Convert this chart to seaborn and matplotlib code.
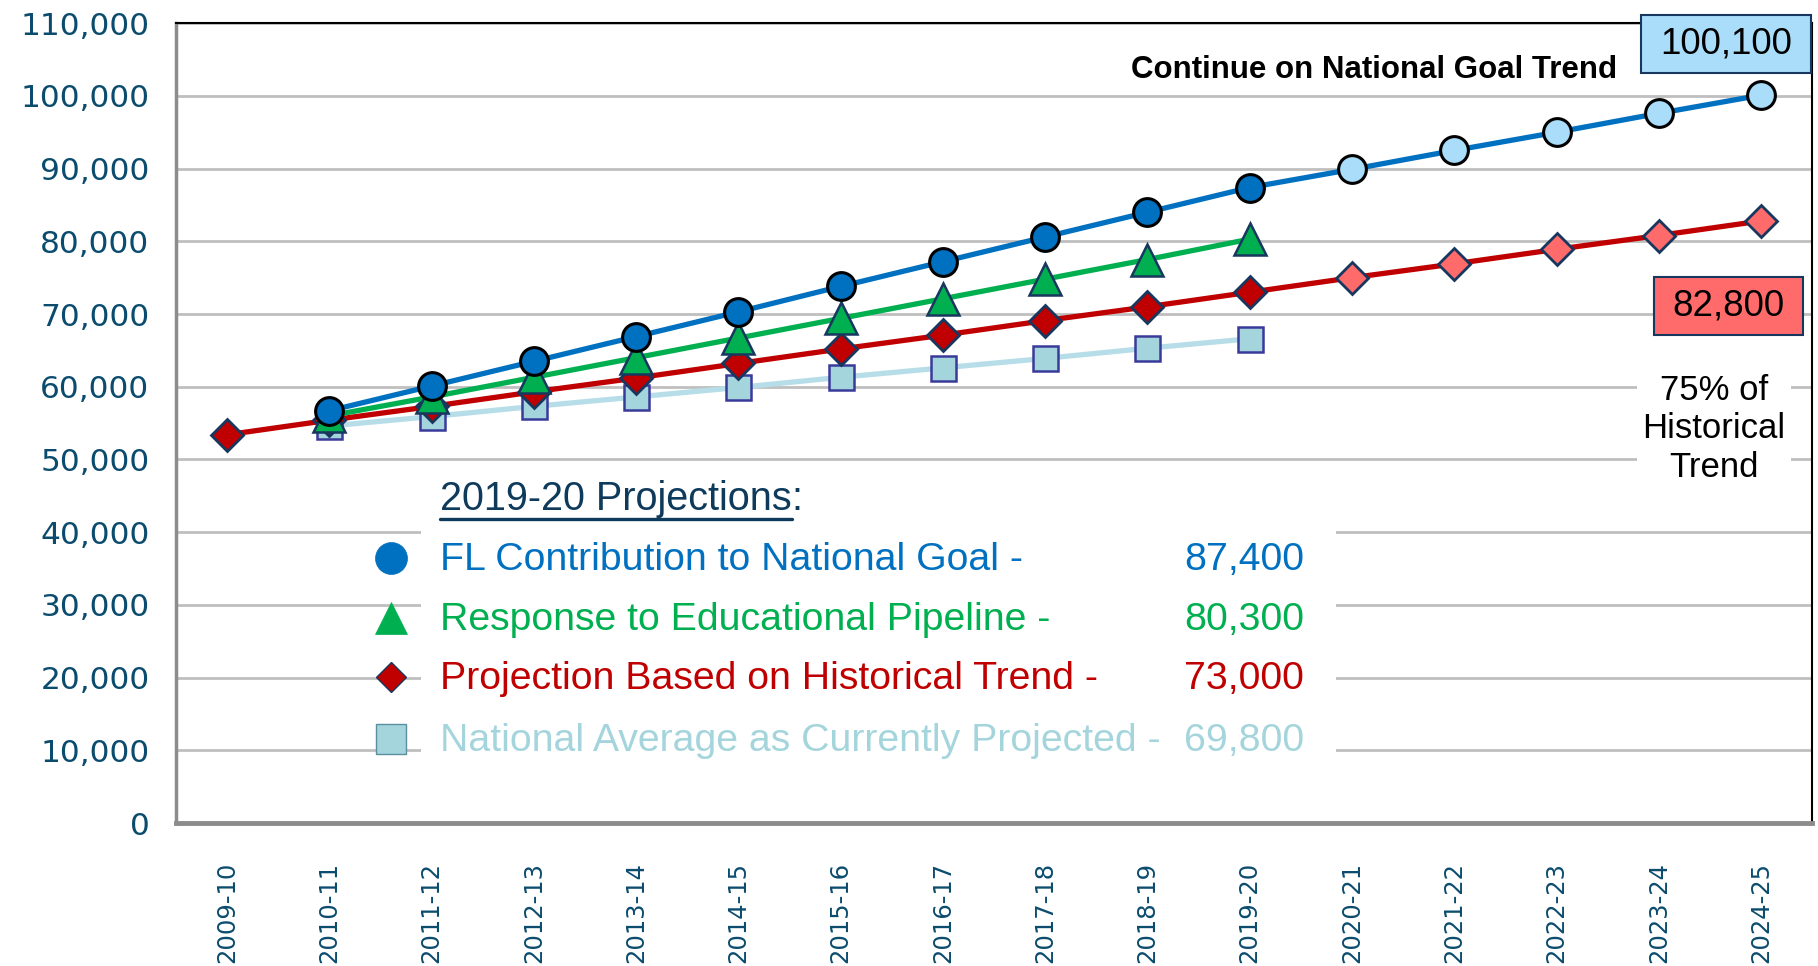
import numpy as np
import pandas as pd
import matplotlib
matplotlib.use("Agg")
import matplotlib.pyplot as plt
import seaborn as sns
from matplotlib.patches import Rectangle
from matplotlib.lines import Line2D

nan = np.nan

years = ['2009-10', '2010-11', '2011-12', '2012-13', '2013-14', '2014-15',
         '2015-16', '2016-17', '2017-18', '2018-19', '2019-20', '2020-21',
         '2021-22', '2022-23', '2023-24', '2024-25']
first_future = '2020-21'

national_goal = [nan, 56700, 60100, 63500, 66900, 70300, 73800, 77200, 80600,
                 84000, 87400, 89900, 92500, 95000, 97600, 100100]
pipeline = [nan, 56000, 58600, 61300, 64000, 66700, 69400, 72100, 74800,
            77500, 80300, nan, nan, nan, nan, nan]
historical = [53400, 55400, 57300, 59300, 61200, 63200, 65200, 67100, 69100,
              71000, 73000, 75000, 76900, 78900, 80800, 82800]
national_avg = [nan, 54600, 55900, 57300, 58600, 59900, 61300, 62600, 63900,
                65300, 66600, nan, nan, nan, nan, nan]

legend_labels = ['FL Contribution to National Goal -',
                 'Response to Educational Pipeline -',
                 'Projection Based on Historical Trend -',
                 'National Average as Currently Projected -']
legend_values = ['87,400', '80,300', '73,000', '69,800']

goal_end_label = '100,100'
trend_end_label = '82,800'

df = pd.DataFrame({'year': years, 'goal': national_goal, 'pipeline': pipeline,
                   'historical': historical, 'avg': national_avg})
df['pos'] = np.arange(len(df))
df['future'] = df['pos'] >= years.index(first_future)

sns.set_theme(style="white")
plt.rcParams['font.family'] = ['Liberation Sans', 'DejaVu Sans']

fig = plt.figure(figsize=(18.18, 9.66), dpi=100)
ax = fig.add_axes([0.0968, 0.148, 0.900, 0.828])

navy = '#17375E'
tick_color = '#0B4C6E'


def draw(col, line_color, marker, ms, fill, edge, mew, z, future_fill=None):
    d = df.dropna(subset=[col])
    sns.lineplot(data=d, x='pos', y=col, ax=ax, color=line_color, lw=3.8,
                 zorder=z)
    past = d[~d['future']]
    sns.lineplot(data=past, x='pos', y=col, ax=ax, color=line_color,
                 linestyle='', marker=marker, markersize=ms,
                 markerfacecolor=fill, markeredgecolor=edge,
                 markeredgewidth=mew, zorder=z + 0.1)
    fut = d[d['future']]
    if len(fut) and future_fill:
        sns.lineplot(data=fut, x='pos', y=col, ax=ax, color=line_color,
                     linestyle='', marker=marker, markersize=ms,
                     markerfacecolor=future_fill, markeredgecolor=edge,
                     markeredgewidth=mew, zorder=z + 0.1)


draw('avg', '#B7DEE8', 's', 18, '#A5D5DC', '#3A3A9A', 1.8, 3)
draw('historical', '#C00000', 'D', 16, '#C00000', navy, 2, 4,
     future_fill='#FF6B6B')
draw('pipeline', '#00B050', '^', 23, '#00B050', navy, 1.8, 5)
draw('goal', '#0070C0', 'o', 20, '#0070C0', 'black', 2.2, 6,
     future_fill='#A9DDF9')

ax.set_xlim(-0.5, len(years) - 0.5)
ax.set_ylim(0, 110000)
ax.set_yticks(np.arange(0, 110001, 10000))
ax.set_yticklabels([f'{v:,}' for v in range(0, 110001, 10000)],
                   family='DejaVu Sans', fontsize=22.5, color=tick_color)
ax.set_xticks(df['pos'])
ax.set_xticklabels(years, rotation=90, family='DejaVu Sans', fontsize=17.5,
                   color=tick_color)
ax.tick_params(axis='x', length=0, pad=28)
ax.tick_params(axis='y', length=0, pad=19)
ax.set_xlabel('')
ax.set_ylabel('')

ax.yaxis.grid(True, color='#BFBFBF', lw=2)
ax.xaxis.grid(False)
ax.set_axisbelow(True)

for side in ['top', 'right']:
    ax.spines[side].set_color('black')
    ax.spines[side].set_linewidth(1.5)
ax.spines['left'].set_color('#8C8C8C')
ax.spines['left'].set_linewidth(2.5)
ax.spines['bottom'].set_color('#8C8C8C')
ax.spines['bottom'].set_linewidth(3.5)

bt = ax.get_yaxis_transform()

# legend block
ax.add_patch(Rectangle((0.1498, 6400), 0.709 - 0.1498, 48760 - 6400,
                       transform=bt, facecolor='white', edgecolor='none',
                       zorder=1.5))
title = ax.text(0.1614, 44600, '2019-20 Projections', transform=bt,
                fontsize=28.5, color='#0E3A5C', va='center', ha='left')

entry_y = [36200, 27900, 19800, 11300]
entry_colors = ['#0070C0', '#00B050', '#C00000', '#A5D5DC']
entry_markers = [('o', 23, '#0070C0', '#0070C0', 0.5),
                 ('^', 23, '#00B050', '#00B050', 0.5),
                 ('D', 15, '#C00000', navy, 1.0),
                 ('s', 21, '#A5D5DC', '#5A8FA0', 1.0)]
for y, lab, val, c, (m, ms, fc, ec, ew) in zip(entry_y, legend_labels,
                                                 legend_values, entry_colors,
                                                 entry_markers):
    ax.text(0.1614, y, lab, transform=bt, fontsize=28.3, color=c,
            va='center', ha='left')
    ax.text(0.6895, y, val, transform=bt, fontsize=28.3, color=c,
            va='center', ha='right')
    ax.add_line(Line2D([0.1314], [y + 300], transform=bt, marker=m,
                       markersize=ms, markerfacecolor=fc, markeredgecolor=ec,
                       markeredgewidth=ew, linestyle='', zorder=7))

fig.canvas.draw()
renderer = fig.canvas.get_renderer()
bb = title.get_window_extent(renderer)
inv = ax.transAxes.inverted()
x0 = inv.transform((bb.x0, 0))[0]
x1 = inv.transform((bb.x1, 0))[0]
ax.add_line(Line2D([x0, x1], [41800, 41800], transform=bt, color='#0E3A5C',
                   lw=2.4, zorder=7))
ax.text(x1, 44600, ':', transform=bt, fontsize=28.5, color='#0E3A5C',
        va='center', ha='left')

# annotations
ax.text(0.7323, 103500, 'Continue on National Goal Trend', transform=bt,
        fontsize=22.5, fontweight='bold', color='black', ha='center',
        va='center')

ax.add_patch(Rectangle((0.8955, 103200), 0.9994 - 0.8955, 111100 - 103200,
                       transform=bt, facecolor='#A9DDF9', edgecolor=navy,
                       lw=1.5, zorder=8, clip_on=False))
ax.text(0.9475, 107150, goal_end_label, transform=bt, fontsize=26.5,
        color='black', ha='center', va='center', zorder=9)

ax.add_patch(Rectangle((0.9034, 67100), 0.9945 - 0.9034, 75100 - 67100,
                       transform=bt, facecolor='#FF6B6B', edgecolor=navy,
                       lw=1.5, zorder=8))
ax.text(0.949, 71100, trend_end_label, transform=bt, fontsize=26.5,
        color='black', ha='center', va='center', zorder=9)

ax.text(0.940, 54200, '75% of\nHistorical\nTrend', transform=bt, fontsize=25,
        color='black', ha='center', va='center', linespacing=1.22,
        bbox=dict(facecolor='white', edgecolor='none', pad=4), zorder=8)

fig.savefig('out.png', dpi=100)
